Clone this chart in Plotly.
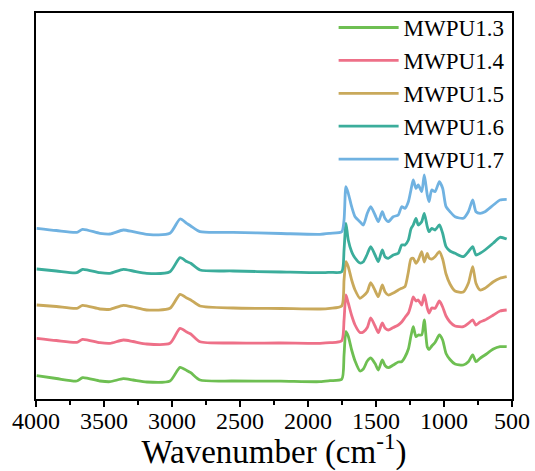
import plotly.graph_objects as go

wavenumber = [3995, 3850, 3700, 3657, 3530, 3456, 3358, 3287, 3186, 3015,
              2941, 2892, 2862, 2794, 2551, 2200, 1912, 1838, 1752, 1735,
              1721, 1704, 1679, 1654, 1618, 1593, 1564, 1539, 1507, 1483,
              1454, 1434, 1410, 1373, 1336, 1311, 1287, 1262, 1243, 1226,
              1206, 1189, 1164, 1145, 1123, 1110, 1090, 1066, 1034, 1010,
              985, 956, 919, 858, 821, 789, 765, 735, 699, 637,
              588, 539]

mwpu13 = [23.3, 20.5, 18, 21.3, 18, 17.3, 20.3, 19, 17, 18,
          31.7, 28.5, 26.3, 19, 18, 17.8, 17.3, 18.3, 19.7, 44,
          67.3, 62.7, 49, 38, 28, 30, 38, 41, 35.5, 29,
          39, 33.5, 31.3, 34, 37, 37.3, 42, 50, 63, 72.3,
          62.3, 64, 64, 79, 52, 49.5, 53, 56.5, 64, 59,
          45.5, 39.5, 35, 34, 37.3, 44, 37.3, 40.7, 44, 50,
          52.3, 52.3]

mwpu14 = [60.7, 58.5, 56.7, 59.7, 56.3, 55.7, 59, 57.5, 55, 55.7,
          70.7, 67, 65, 57.3, 56, 56, 55.7, 56.3, 58.3, 79,
          104, 96, 83.5, 74, 66.5, 67, 71.5, 81, 73, 66.3,
          76, 71, 69, 71.5, 74, 77, 81.5, 86, 94, 102,
          98, 99, 94, 104, 91, 86, 91, 90.7, 98, 92,
          83, 77, 73, 72.3, 75.7, 79, 74, 77, 79, 84,
          88, 89]

mwpu15 = [94, 92.5, 90.7, 93.7, 90, 89.7, 93.7, 92, 89, 90.7,
          104.7, 101, 99, 93, 91, 90.5, 90, 90.7, 93, 119,
          137.3, 132.3, 119, 109, 100.7, 103, 107.3, 116.3, 108.5, 102.3,
          114, 107.3, 104, 106, 109, 110.7, 112.3, 127, 140, 140.7,
          135.7, 139, 147.3, 137, 145.7, 141, 140, 142.3, 147.3, 140,
          125, 115, 108, 107, 115.7, 132.3, 115.7, 109, 110.7, 117.3,
          120.7, 122.3]

mwpu16 = [130, 128, 126.3, 129.7, 126.3, 125.7, 129.7, 128, 125.7, 127.3,
          141.3, 137.5, 135.7, 129, 128, 127, 126.3, 126.7, 127.3, 149,
          175.7, 159, 147.3, 141, 136, 137.3, 145, 152.3, 144, 137.3,
          149, 142.3, 140.7, 144, 145.7, 154, 154, 159, 170, 174,
          180.7, 174, 177.3, 185.7, 172.3, 167.3, 170.7, 169, 174, 165.7,
          152.3, 148, 145.7, 142.3, 147.3, 152.3, 144, 145.7, 149, 156,
          161.7, 160]

mwpu17 = [170.7, 168.5, 166.7, 169.7, 165.7, 165, 169, 167.3, 164.7, 165.7,
          180, 175.7, 173, 167.3, 166.7, 165.5, 164.7, 165.7, 167.3, 179,
          212.3, 205.7, 192.3, 182.3, 177.3, 174, 185.7, 192.3, 184, 177.3,
          187.3, 180.7, 177.3, 182.3, 184, 192.3, 190.7, 197.3, 209, 219,
          210.7, 214, 207.3, 224, 204, 197.3, 209, 207.3, 217.3, 210.7,
          192.3, 187.3, 182.3, 180.7, 187.3, 199, 187.3, 185.7, 187.3, 194,
          199, 199.7]

series_names = ["MWPU1.3", "MWPU1.4", "MWPU1.5", "MWPU1.6", "MWPU1.7"]
series_values = [mwpu13, mwpu14, mwpu15, mwpu16, mwpu17]
colors = ["#6EBF52", "#EE7088", "#C9A95B", "#3BAD9B", "#70B2E1"]

x_ticks = [4000, 3500, 3000, 2500, 2000, 1500, 1000, 500]

FONT = "Liberation Serif"

fig = go.Figure()
for name, vals, col in zip(series_names, series_values, colors):
    fig.add_trace(go.Scatter(
        x=wavenumber, y=vals, name=name, mode="lines",
        line=dict(color=col, width=2.8, shape="spline", smoothing=0.65),
    ))

fig.update_layout(
    width=535, height=471,
    margin=dict(l=36, r=23, t=13, b=72, autoexpand=False),
    paper_bgcolor="white", plot_bgcolor="white",
    font=dict(family=FONT, color="black", size=24),
    showlegend=True,
    legend=dict(
        x=0.995, y=1.018, xanchor="right", yanchor="top",
        font=dict(family=FONT, size=23, color="black"),
        bgcolor="rgba(0,0,0,0)", borderwidth=0,
        itemwidth=60, tracegroupgap=0,
    ),
    xaxis=dict(
        range=[4000, 500],
        tickvals=x_ticks,
        ticks="outside", ticklen=6, tickwidth=2, tickcolor="black",
        minor=dict(dtick=250, tick0=500, ticks="outside", ticklen=4, tickwidth=2, tickcolor="black"),
        showline=True, linecolor="black", linewidth=2, mirror=True,
        showgrid=False, zeroline=False,
        tickfont=dict(family=FONT, size=24, color="black"),
        ticklabelstandoff=-7,
        title=dict(text="Wavenumber (cm<sup>-1</sup>)", font=dict(family=FONT, size=33, color="black"), standoff=0),
    ),
    yaxis=dict(
        range=[0, 386],
        showticklabels=False, ticks="",
        showline=True, linecolor="black", linewidth=2, mirror=True,
        showgrid=False, zeroline=False,
    ),
)

post = (
    "document.body.style.margin='0px';"
    "document.body.style.overflow='hidden';"
)
fig.write_html("out.html", post_script=post, config={"displayModeBar": False})
